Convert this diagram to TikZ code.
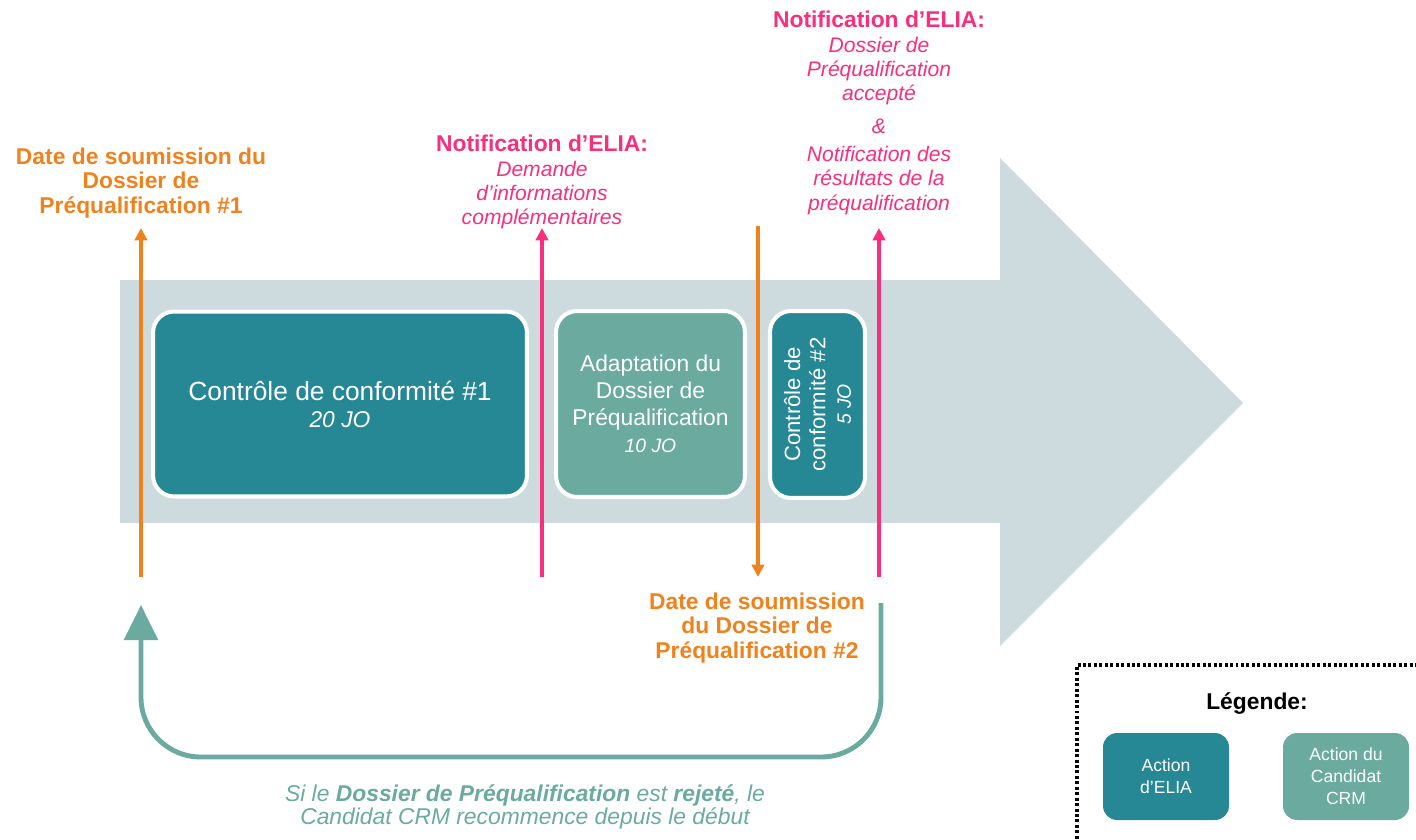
\documentclass[tikz,border=0pt]{standalone}
\usepackage{fontspec}
\setmainfont{Liberation Sans}
\usetikzlibrary{arrows.meta,positioning}

\definecolor{eliateal}{HTML}{258894}
\definecolor{crmteal}{HTML}{6AAA9F}
\definecolor{bandgray}{HTML}{CDDADE}
\definecolor{subor}{HTML}{F0821E}
\definecolor{notpink}{HTML}{F72F7C}

\begin{document}
\begin{tikzpicture}[x=0.02cm, y=-0.02cm,
  elia/.style={draw=white, line width=2.3pt, fill=eliateal, rounded corners=12pt,
    text=white, align=center, inner sep=0pt, font=\fontsize{13}{15.4}\selectfont},
  crm/.style={elia, fill=crmteal},
  orlbl/.style={text=subor, align=center, font=\fontsize{13}{14}\selectfont\bfseries},
  pklbl/.style={text=notpink, align=center, font=\fontsize{12}{13.7}\selectfont\itshape},
  orarr/.style={color=subor, line width=2pt, -{Triangle[length=7pt,width=7pt]}},
  pkarr/.style={orarr, color=notpink},
  legbox/.style={rounded corners=8pt, draw=none, minimum width=2.52cm, minimum height=1.74cm,
    font=\fontsize{10}{12.5}\selectfont}]
\useasboundingbox (0,0) rectangle (1416,839);

% timeline band
\fill[bandgray] (120,280) -- (1000,280) -- (1000,158) -- (1243,403)
  -- (1000,646) -- (1000,523) -- (120,523) -- cycle;

% steps
\node[elia, minimum width=7.48cm, minimum height=3.7cm] (ctrl1) at (340,404)
  {{\fontsize{15}{17}\selectfont Contrôle de conformité \#1}\\{\itshape 20 JO}};
\node[crm, minimum width=3.78cm, minimum height=3.72cm] (adapt) at (650.5,404)
  {Adaptation du\\Dossier de\\Préqualification\\{\itshape\fontsize{11}{13}\selectfont 10 JO}};
\node[elia, rotate=90, minimum width=3.74cm, minimum height=1.9cm,
  font=\fontsize{12.6}{14.4}\selectfont] (ctrl2) at (817.5,404.5)
  {Contrôle de\\conformité \#2\\{\itshape\fontsize{11}{13}\selectfont 5 JO}};

% milestones
\coordinate (m1a) at (141,577);  \coordinate (m1b) at (141,228);
\coordinate (m2a) at (542,577);  \coordinate (m2b) at (542,228);
\coordinate (m3a) at (758,226);  \coordinate (m3b) at (758,577);
\coordinate (m4a) at (879,577);  \coordinate (m4b) at (879,228);
\draw[orarr] (m1a) -- (m1b);
\draw[pkarr] (m2a) -- (m2b);
\draw[orarr] (m3a) -- (m3b);
\draw[pkarr] (m4a) -- (m4b);

\node[orlbl] (sub1) at (141,183) {Date de soumission du\\Dossier de\\Préqualification \#1};
\node[orlbl] (sub2) at (757,628) {Date de soumission\\du Dossier de\\Préqualification \#2};
\node[pklbl] (notif1) at (542,182)
  {{\upshape\bfseries\fontsize{13}{14}\selectfont Notification d’ELIA:}\\Demande\\d’informations\\complémentaires};
\node[pklbl] (notif2) at (879,58)
  {{\upshape\bfseries\fontsize{13}{14}\selectfont Notification d’ELIA:}\\Dossier de\\Préqualification\\accepté};
\node[pklbl] (amp) at (879,126) {\&};
\node[pklbl] (notif3) at (879,180.5) {Notification des\\résultats de la\\préqualification};

% restart loop
\coordinate (back) at (881,603);
\coordinate (loopbot) at (500,757);
\coordinate (restart) at (141,605);
\draw[crmteal, line width=2.8pt, rounded corners=34pt, -{Triangle[length=20pt,width=19pt]}]
  (back) -- (back |- loopbot) -- (restart |- loopbot) -- (restart);
\node[text=crmteal, align=center, font=\fontsize{13}{12}\selectfont\itshape] (note) at (525,807)
  {Si le \textbf{Dossier de Préqualification} est \textbf{rejeté}, le\\Candidat CRM recommence depuis le début};

% legend
\draw[line width=2.2pt, dash pattern=on 1.7pt off 1.4pt] (1440,665) -- (1077,665) -- (1077,860);
\node[font=\fontsize{13}{15}\selectfont\bfseries] (legtitle) at (1257,704) {Légende:};
\node[elia, legbox] (legelia) at (1166,776.5) {Action\\d’ELIA};
\node[crm, legbox] (legcrm) at (1346,776.5) {Action du\\Candidat\\CRM};
\end{tikzpicture}
\end{document}
